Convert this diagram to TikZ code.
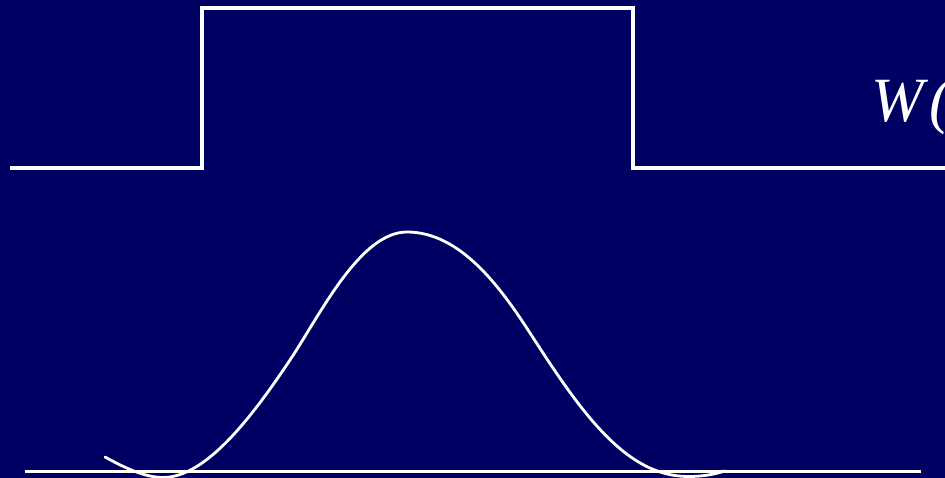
\documentclass[tikz,border=0pt]{standalone}
\usepackage{fontspec}
\setmainfont{Liberation Serif}
\definecolor{bgnavy}{RGB}{0,0,98}
\begin{document}
\begin{tikzpicture}[x=1pt,y=1pt,
  sig/.style={draw=white,line width=3.5pt,line join=miter},
  curve/.style={draw=white,line width=2.8pt,line cap=round},
  lbl/.style={text=white,font=\fontsize{63}{63}\selectfont\itshape,inner sep=0pt}]
\useasboundingbox (0,0) rectangle (945,478);
\fill[bgnavy] (0,0) rectangle (945,478);
\clip (0,0) rectangle (945,478);
% rectangular window
\coordinate (a) at (10,310);
\coordinate (b) at (202,310);
\coordinate (c) at (202,470);
\coordinate (d) at (633,470);
\coordinate (e) at (633,310);
\coordinate (f) at (950,310);
\draw[sig] (a) -- (b) -- (c) -- (d) -- (e) -- (f);
\node[lbl,anchor=base west] (w) at (871,356) {W\kern6pt(};
% axis
\coordinate (l) at (25,6.5);
\coordinate (r) at (921,6.5);
\draw[sig] (l) -- (r);
% spectrum curve
\coordinate (s0) at (105,21);
\coordinate (m1) at (163,0.5);
\coordinate (i1) at (290,118);
\coordinate (pk) at (407,246);
\coordinate (i2) at (530,145);
\coordinate (m2) at (688,1.5);
\coordinate (s1) at (725,7);
\draw[curve] (s0) .. controls (125,10) and (145,0.5) .. (m1)
  .. controls (205,0.5) and (250,58) .. (i1)
  .. controls (320,163) and (360,246) .. (pk)
  .. controls (460,246) and (500,191.5) .. (i2)
  .. controls (580,67.5) and (625,1.5) .. (m2)
  .. controls (705,1.5) and (715,4) .. (s1);
\end{tikzpicture}
\end{document}
